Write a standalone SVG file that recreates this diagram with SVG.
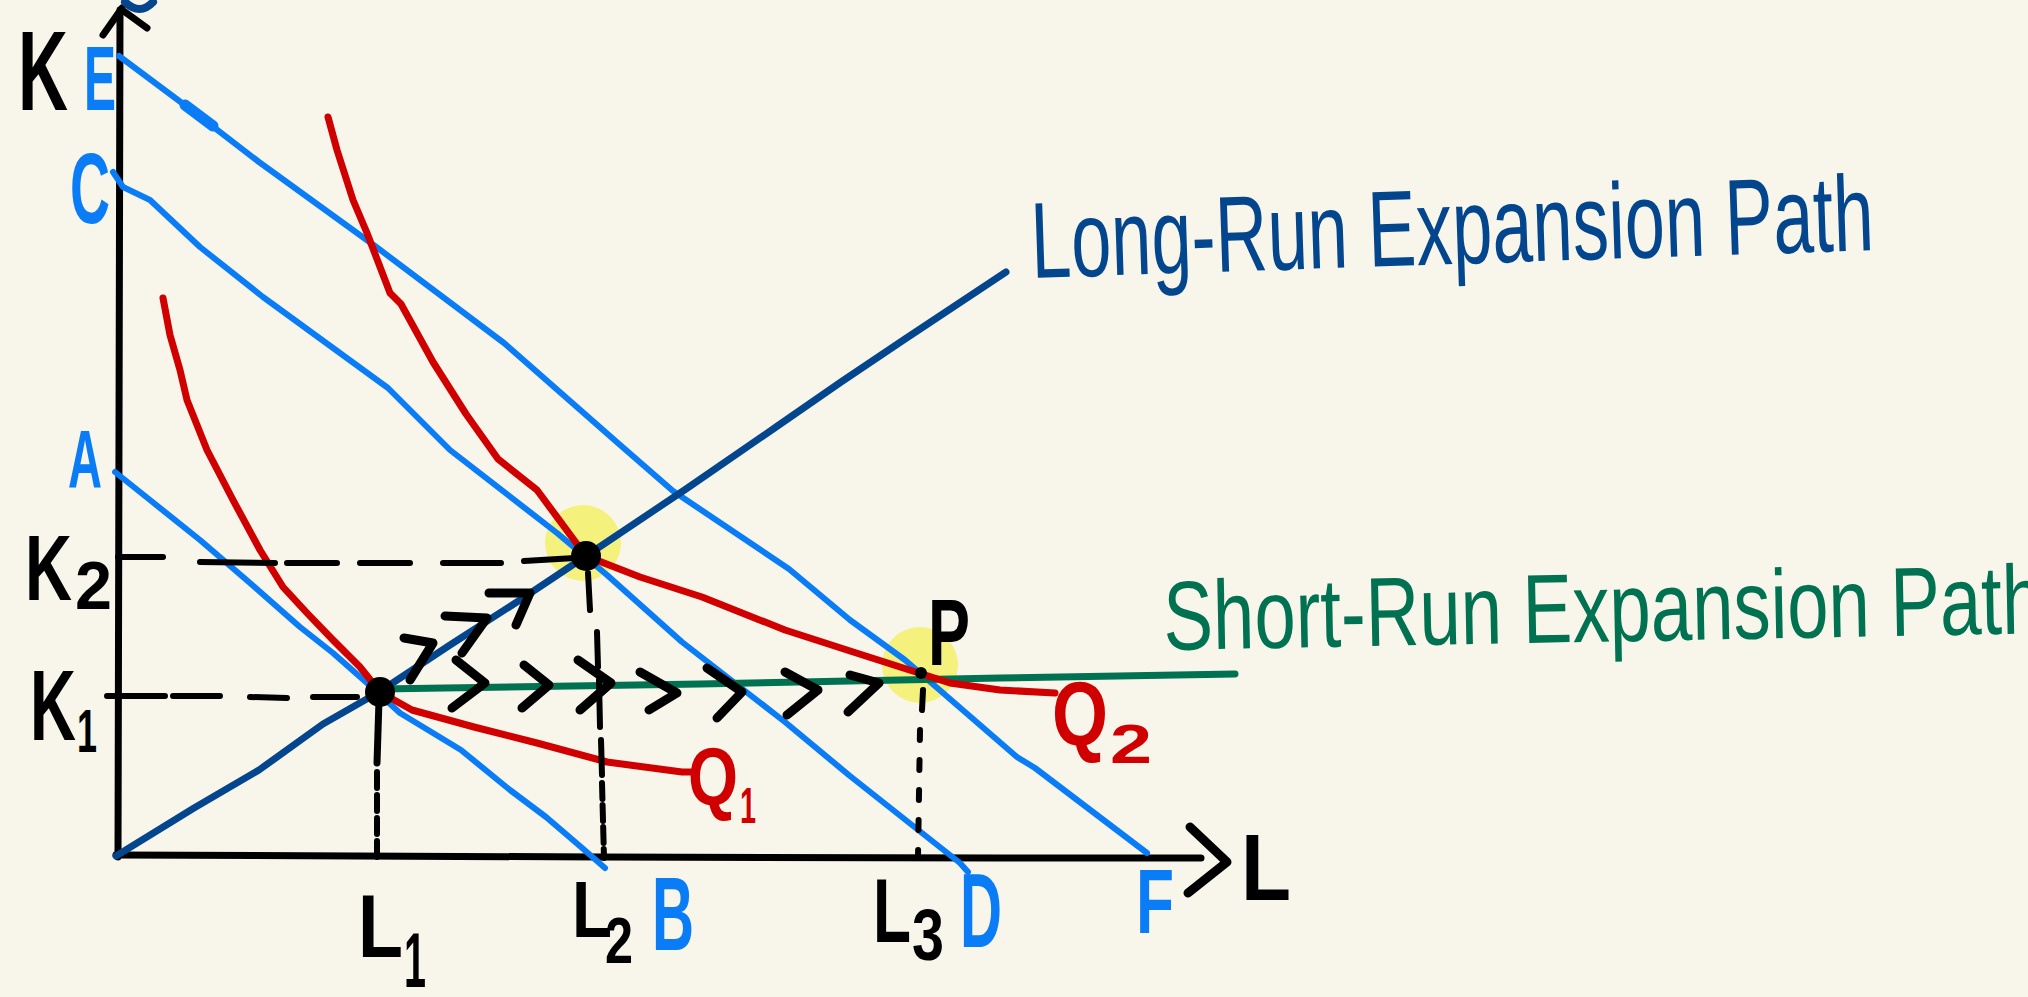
<svg xmlns="http://www.w3.org/2000/svg" width="2028" height="997" viewBox="0 0 2028 997">
<style>
.ln{fill:none;stroke-linecap:round;stroke-linejoin:round}
.ax{stroke:#000;stroke-width:7}
.iso{stroke:#0A7CF6;stroke-width:6}
.lr{stroke:#04468E;stroke-width:7}
.sr{stroke:#007252;stroke-width:7}
.q{stroke:#D00000;stroke-width:7}
.dash{stroke:#000;stroke-width:6}
.chev{stroke:#000;stroke-width:9}
.lab{font-family:"Liberation Sans",Arial,sans-serif;font-weight:700}
.big{font-family:"Liberation Sans",Arial,sans-serif;font-weight:400}
</style>
<rect width="2028" height="997" fill="#F8F6EA"/>
<g id="axes">
<path class="ln ax" d="M120 10 L118 857"/>
<path class="ln ax" d="M103 35 L122 8 M125 12 L147 28"/>
<path class="ln ax" d="M116 855 L600 857 L1000 858 L1201 858"/>
<path class="ln ax" style="stroke-width:9" d="M1190 827 L1227 862 L1188 893"/>
<path class="ln" stroke="#04468E" stroke-width="8" d="M125 2 Q140 16 153 2"/>
</g>
<g id="highlights" fill="#F3F06A" fill-opacity="0.85">
<circle cx="583" cy="543" r="38"/>
<circle cx="920" cy="665" r="38"/>
</g>
<g id="isocosts">
<path id="isocost-AB" class="ln iso" d="M115 472 L150 500 L200 540 L250 583 L300 627 L333 653 L367 683 L400 713 L461 750 L510 790 L546 817 L581 847 L605 868"/>
<path id="isocost-CD" class="ln iso" d="M113 172 L123 187 L150 200 L200 247 L263 297 L388 388 L450 450 L557 533 L607 575 L682 642 L785 722 L850 776 L917 829 L960 863 L968 872"/>
<path id="isocost-EF" class="ln iso" d="M119 56 L194 112 L259 162 L375 246 L504 343 L619 444 L673 491 L789 569 L850 620 L905 660 L1017 757 L1035 768 L1147 853"/>
<path class="ln" stroke="#0A7CF6" stroke-width="11" d="M185 105 L213 126"/>
</g>
<g id="connectors">
<path id="long-run-path" class="ln lr" d="M116 856 L194 808 L259 770 L323 724 L379 692 L450 645 L520 600 L586 556 L686 489 L776 427 L841 382 L905 339 L1006 272"/>
<path id="short-run-path" class="ln sr" d="M380 689 L700 684 L1000 678 L1235 674"/>
<path id="Q1-curve" class="ln q" d="M163 298 L170 335 L180 370 L187 400 L207 450 L233 500 L260 550 L283 587 L307 613 L333 640 L360 667 L380 692 L412 710 L474 727 L537 743 L607 762 L682 772 L692 772"/>
<path id="Q2-curve" class="ln q" d="M328 117 L337 150 L353 200 L367 233 L390 293 L401 304 L433 362 L466 414 L498 459 L537 490 L574 540 L586 556 L640 577 L702 597 L785 630 L847 650 L922 674 L950 683 L1000 690 L1055 693"/>
<g id="dashes">
<path class="ln dash" d="M118 557 L163 557 M200 562 L275 563 M287 563 L337 563 M360 563 L410 563 M443 563 L501 563 M524 561 L575 558"/>
<path class="ln dash" d="M107 696 L165 696 M173 696 L220 696 M250 697 L287 698 M313 697 L357 697"/>
<path class="ln" stroke="#000" stroke-width="7" d="M379 700 L377 763"/>
<path class="ln dash" stroke-dasharray="16 7" d="M377 772 L377 858"/>
<path class="ln dash" d="M588 573 L590 610 M597 632 L598 667 M599 680 L600 727 M601 740 L602 775"/>
<path class="ln dash" stroke-dasharray="16 6" d="M602 783 L604 858"/>
<path class="ln dash" d="M923 690 L922 710"/>
<path class="ln dash" stroke-dasharray="10 20" d="M920 730 L918 857"/>
</g>
<g id="chevrons">
<path class="ln chev" d="M456 660 L485 683 L452 708"/>
<path class="ln chev" d="M524 665 L549 685 L522 708"/>
<path class="ln chev" d="M578 660 L611 683 L580 710"/>
<path class="ln chev" d="M640 672 L677 693 L649 710"/>
<path class="ln chev" d="M707 668 L742 692 L717 718"/>
<path class="ln chev" d="M785 672 L818 690 L787 715"/>
<path class="ln chev" d="M850 675 L879 683 L848 712"/>
<path class="ln chev" d="M404 638 L433 643 L410 680"/>
<path class="ln chev" d="M445 616 L487 618 L462 653"/>
<path class="ln chev" d="M489 593 L530 593 L516 625"/>
</g>
</g>
<g id="points" fill="#000">
<circle id="point-L1K1" cx="380" cy="692" r="15"/>
<circle id="point-L2K2" cx="586" cy="556" r="15"/>
<circle id="point-P" cx="921" cy="673" r="6"/>
</g>
<g id="labels">
<text class="lab" x="18" y="110" font-size="114" textLength="50" lengthAdjust="spacingAndGlyphs" fill="#000">K</text>
<text class="lab" x="84" y="110" font-size="90" textLength="32" lengthAdjust="spacingAndGlyphs" fill="#0A7CF6">E</text>
<text class="lab" x="70" y="223" font-size="100" textLength="40" lengthAdjust="spacingAndGlyphs" fill="#0A7CF6">C</text>
<text class="lab" x="68" y="487" font-size="82" textLength="34" lengthAdjust="spacingAndGlyphs" fill="#0A7CF6">A</text>
<text class="lab" x="25" y="600" font-size="93" textLength="47" lengthAdjust="spacingAndGlyphs" fill="#000">K</text>
<text class="lab" x="75" y="609" font-size="68" textLength="37" lengthAdjust="spacingAndGlyphs" fill="#000">2</text>
<text class="lab" x="30" y="740" font-size="100" textLength="46" lengthAdjust="spacingAndGlyphs" fill="#000">K</text>
<text class="lab" x="77" y="752" font-size="62" textLength="20" lengthAdjust="spacingAndGlyphs" fill="#000">1</text>
<text class="lab" x="358" y="957" font-size="89" textLength="45" lengthAdjust="spacingAndGlyphs" fill="#000">L</text>
<text class="lab" x="404" y="987" font-size="78" textLength="22" lengthAdjust="spacingAndGlyphs" fill="#000">1</text>
<text class="lab" x="572" y="937" font-size="80" textLength="40" lengthAdjust="spacingAndGlyphs" fill="#000">L</text>
<text class="lab" x="605" y="963" font-size="64" textLength="28" lengthAdjust="spacingAndGlyphs" fill="#000">2</text>
<text class="lab" x="652" y="950" font-size="104" textLength="42" lengthAdjust="spacingAndGlyphs" fill="#0A7CF6">B</text>
<text class="lab" x="873" y="942" font-size="90" textLength="38" lengthAdjust="spacingAndGlyphs" fill="#000">L</text>
<text class="lab" x="912" y="960" font-size="72" textLength="32" lengthAdjust="spacingAndGlyphs" fill="#000">3</text>
<text class="lab" x="960" y="947" font-size="106" textLength="42" lengthAdjust="spacingAndGlyphs" fill="#0A7CF6">D</text>
<text class="lab" x="1136" y="933" font-size="90" textLength="38" lengthAdjust="spacingAndGlyphs" fill="#0A7CF6">F</text>
<text class="lab" x="1241" y="900" font-size="94" textLength="50" lengthAdjust="spacingAndGlyphs" fill="#000">L</text>
<text class="lab" x="688" y="805" font-size="82" textLength="50" lengthAdjust="spacingAndGlyphs" fill="#D00000">Q</text>
<text class="lab" x="740" y="823" font-size="50" textLength="16" lengthAdjust="spacingAndGlyphs" fill="#D00000">1</text>
<text class="lab" x="1052" y="745" font-size="90" textLength="56" lengthAdjust="spacingAndGlyphs" fill="#D00000">Q</text>
<text class="lab" x="1110" y="763" font-size="56" textLength="42" lengthAdjust="spacingAndGlyphs" fill="#D00000">2</text>
<text class="lab" x="928" y="665" font-size="94" textLength="42" lengthAdjust="spacingAndGlyphs" fill="#000">P</text>
<text class="big" x="1032" y="278" font-size="108" textLength="843" lengthAdjust="spacingAndGlyphs" fill="#04468E" transform="rotate(-1.9 1032 278)">Long-Run Expansion Path</text>
<text class="big" x="1164" y="650" font-size="98" textLength="880" lengthAdjust="spacingAndGlyphs" fill="#007252" transform="rotate(-1.1 1164 650)">Short-Run Expansion Path</text>
</g>
</svg>
